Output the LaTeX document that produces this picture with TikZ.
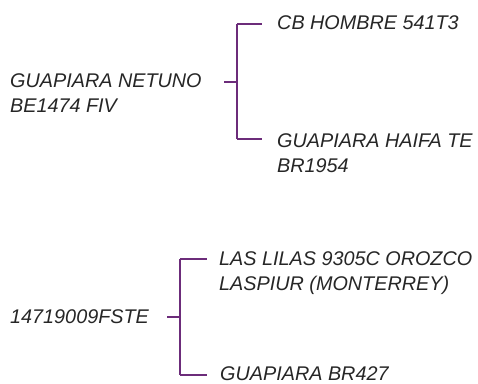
\documentclass[tikz,border=0pt]{standalone}
\usepackage{fontspec}
\setmainfont{Liberation Sans}
\begin{document}
\begin{tikzpicture}[x=1pt,y=-1pt,
  lbl/.style={anchor=base west,inner sep=0pt,align=left,text=black!85,
    font=\fontsize{19.8}{25}\selectfont\itshape},
  trunk/.style={draw=vine,line width=2.6pt},
  twig/.style={draw=vine,line width=1.7pt}]
\definecolor{vine}{HTML}{6C2C7A}
\useasboundingbox (0,0) rectangle (478,383);
% top tree
\node[lbl] (r1) at (10,112) {GUAPIARA NETUNO\\BE1474 FIV};
\node[lbl] (a1) at (277,29) {CB HOMBRE 541T3};
\node[lbl] (a2) at (277,172) {GUAPIARA HAIFA TE\\BR1954};
\coordinate (s1) at (224,82);
\coordinate (j1) at (237,82);
\coordinate (t1) at (237,24);
\coordinate (b1) at (237,139);
\coordinate (e1) at (262,24);
\coordinate (f1) at (262,139);
\draw[trunk] (s1) -- (j1);
\draw[trunk] (t1) -- (b1);
\draw[twig] (t1) -- (e1);
\draw[twig] (b1) -- (f1);
% bottom tree
\node[lbl] (r2) at (10,323) {14719009FSTE};
\node[lbl] (c1) at (219,290) {LAS LILAS 9305C OROZCO\\LASPIUR (MONTERREY)};
\node[lbl] (c2) at (220,380) {GUAPIARA BR427};
\coordinate (s2) at (167,317);
\coordinate (j2) at (180,317);
\coordinate (t2) at (180,259);
\coordinate (b2) at (180,375);
\coordinate (e2) at (207,259);
\coordinate (f2) at (207,375);
\draw[trunk] (s2) -- (j2);
\draw[trunk] (t2) -- (b2);
\draw[twig] (t2) -- (e2);
\draw[twig] (b2) -- (f2);
\end{tikzpicture}
\end{document}
